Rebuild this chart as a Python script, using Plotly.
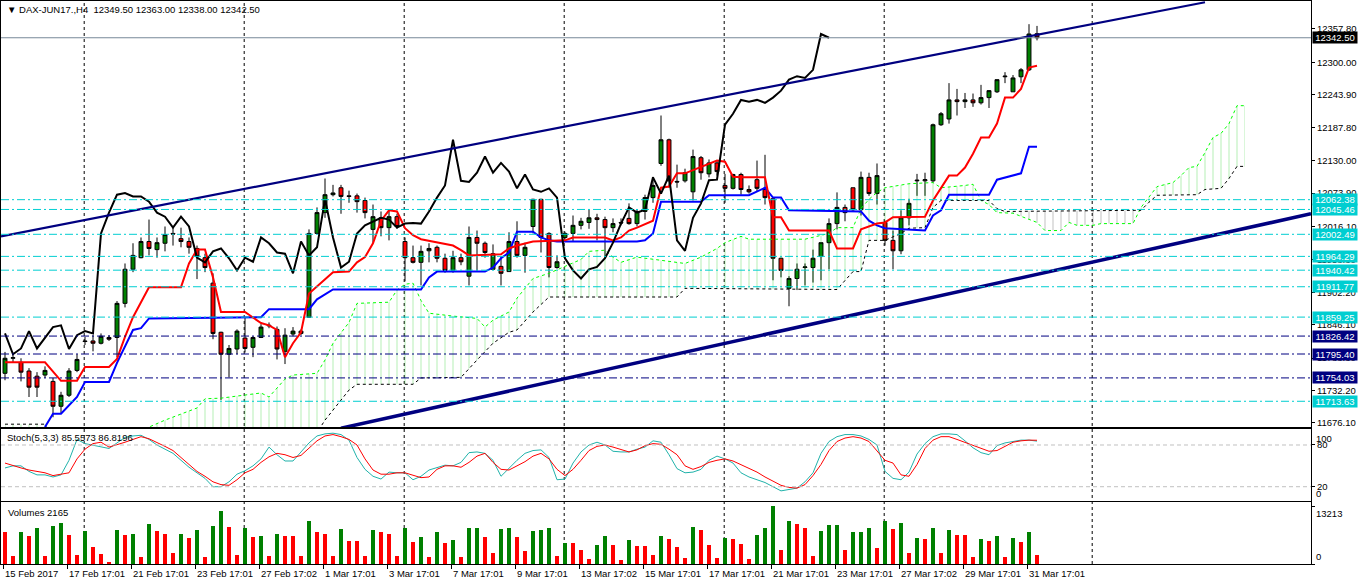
import plotly.graph_objects as go

# DAX-JUN17 H4, bars 0..129 (15 Feb 2017 .. 31 Mar 2017)
opens = [11762, 11788, 11781, 11766, 11757, 11759, 11748, 11705, 11724, 11767,
         11818, 11818, 11814, 11824, 11824, 11883, 11942, 11962, 11990, 11976,
         11987, 12004, 11995, 11990, 11978, 11962, 11918, 11833, 11795, 11804,
         11823, 11807, 11824, 11844, 11838, 11800, 11830, 11835, 11859, 12004,
         12040, 12071, 12083, 12069, 12069, 12061, 12011, 12031, 12014, 12033,
         11990, 11962, 11954, 11974, 11980, 11961, 11940, 11962, 11930, 11997,
         11987, 11942, 11947, 11938, 11990, 11966, 12016, 12063, 12004, 11945,
         11997, 12004, 12018, 12023, 12031, 12028, 12014, 12023, 12030, 12021,
         12042, 12066, 12125, 12166, 12094, 12095, 12076, 12135, 12107, 12126,
         12087, 12082, 12106, 12080, 12097, 12080, 12064, 11961, 11909, 11926,
         11945, 11945, 11964, 11988, 12021, 12049, 12083, 12045, 12101, 12073,
         12023, 11992, 11974, 12031, 12095, 12095, 12095, 12192, 12202, 12235,
         12232, 12235, 12230, 12239, 12249, 12275, 12249, 12275, 12287, 12349.5]
highs = [11799, 11797, 11788, 11771, 11764, 11774, 11754, 11730, 11771, 11795,
         11825, 11828, 11831, 11828, 11887, 11952, 11987, 11997, 12028, 11997,
         12016, 12014, 12014, 11997, 11983, 11969, 11935, 11834, 11811, 11838,
         11859, 11826, 11847, 11850, 11843, 11840, 11842, 11838, 12011, 12049,
         12099, 12088, 12088, 12078, 12073, 12066, 12054, 12042, 12045, 12038,
         11997, 11983, 11983, 11987, 11983, 11969, 11974, 11969, 12016, 12009,
         11990, 11985, 11964, 12006, 12025, 11988, 12064, 12064, 12006, 11966,
         12007, 12035, 12031, 12045, 12038, 12033, 12030, 12030, 12056, 12045,
         12071, 12102, 12208, 12168, 12123, 12116, 12149, 12138, 12132, 12130,
         12107, 12107, 12109, 12087, 12130, 12140, 12065, 11962, 11930, 11952,
         11952, 11976, 11988, 12030, 12075, 12054, 12083, 12111, 12109, 12125,
         12026, 12009, 12044, 12064, 12107, 12109, 12194, 12214, 12264, 12254,
         12247, 12246, 12261, 12252, 12270, 12283, 12278, 12290, 12366, 12363]
lows = [11750, 11780, 11748, 11721, 11721, 11754, 11686, 11693, 11721, 11764,
        11811, 11800, 11812, 11818, 11790, 11876, 11937, 11961, 11966, 11962,
        11973, 11983, 11980, 11969, 11925, 11937, 11821, 11716, 11755, 11795,
        11798, 11790, 11823, 11840, 11786, 11778, 11826, 11828, 11858, 12004,
        12031, 12068, 12038, 12057, 12040, 12030, 11988, 11999, 11992, 12012,
        11921, 11952, 11914, 11954, 11954, 11936, 11936, 11949, 11914, 11938,
        11962, 11942, 11914, 11938, 11962, 11936, 12004, 11971, 11928, 11943,
        11994, 11990, 12011, 12012, 11992, 11962, 12006, 12018, 12019, 12016,
        12028, 12057, 12121, 12083, 12083, 12092, 12061, 12097, 12101, 12104,
        12057, 12080, 12071, 12073, 12076, 12054, 11923, 11928, 11878, 11906,
        11914, 11919, 11923, 11942, 12011, 12025, 12042, 12035, 12069, 12054,
        11983, 11942, 11968, 12018, 12069, 12069, 12092, 12190, 12194, 12208,
        12221, 12223, 12227, 12221, 12247, 12264, 12249, 12264, 12285, 12338]
closes = [11788, 11789, 11764, 11738, 11738, 11767, 11705, 11724, 11766, 11786,
          11817, 11814, 11826, 11821, 11883, 11942, 11966, 11990, 11978, 11988,
          12002, 12003, 11990, 11980, 11964, 11945, 11831, 11795, 11805, 11835,
          11805, 11824, 11842, 11845, 11804, 11828, 11835, 11831, 12004, 12040,
          12071, 12074, 12068, 12068, 12059, 12040, 12033, 12014, 12033, 12016,
          11962, 11954, 11973, 11978, 11961, 11940, 11962, 11955, 11997, 11987,
          11971, 11969, 11935, 11990, 11966, 11980, 12063, 11997, 11945, 11955,
          12004, 12018, 12025, 12031, 12028, 12014, 12021, 12022, 12021, 12042,
          12066, 12087, 12166, 12095, 12093, 12109, 12137, 12109, 12126, 12111,
          12082, 12106, 12080, 12076, 12082, 12066, 11961, 11940, 11926, 11942,
          11946, 11961, 11988, 12021, 12049, 12040, 12045, 12101, 12073, 12104,
          11992, 11974, 12031, 12056, 12096, 12097, 12192, 12211, 12235, 12232,
          12235, 12230, 12239, 12251, 12270, 12276, 12273, 12287, 12349, 12342.5]
volumes = [7186, 1854, 7186, 6490, 8113, 1854, 8577, 9272, 6722, 2086,
           7418, 3941, 2318, 464, 7650, 6722, 6954, 1623, 9040, 7418,
           6954, 2550, 6954, 6027, 7650, 1623, 8577, 12054, 8345, 2086,
           8113, 6259, 6490, 1854, 6954, 6490, 6480, 1854, 9736, 7186,
           6954, 1854, 7881, 5331, 5300, 1854, 7650, 7186, 6954, 1854,
           8113, 5100, 6259, 1623, 7186, 4868, 5563, 1623, 8113, 8150,
           6259, 2550, 7881, 8113, 6259, 3013, 7418, 7650, 8113, 1854,
           4868, 4840, 3245, 1159, 4404, 6490, 4404, 927, 5563, 4172,
           4150, 2086, 6490, 5795, 3941, 1391, 8345, 7650, 4404, 1391,
           6027, 5795, 4636, 1159, 6722, 8113, 13213, 3245, 9736, 9040,
           8113, 1854, 7418, 8808, 8850, 3245, 7186, 7220, 8113, 3709,
           9736, 7881, 9272, 2550, 6027, 5795, 8113, 2550, 7650, 6722,
           6700, 1623, 5795, 5331, 6490, 1623, 6027, 5100, 7186, 2165]
stoch_k = [47, 50, 50, 42, 37, 37, 34, 37, 58, 88,
           82, 80, 78, 75, 83, 91, 93, 94, 88, 80,
           74, 68, 58, 48, 40, 32, 20, 20, 27, 38,
           43, 50, 60, 77, 66, 57, 57, 70, 83, 93,
           96, 97, 95, 87, 62, 45, 35, 31, 41, 40,
           40, 30, 35, 44, 48, 51, 50, 55, 69, 70,
           68, 58, 35, 47, 58, 68, 72, 73, 62, 30,
           31, 54, 70, 80, 84, 80, 71, 70, 70, 74,
           77, 86, 84, 66, 46, 40, 41, 45, 58, 64,
           60, 54, 40, 34, 30, 26, 20, 14, 16, 18,
           27, 40, 68, 85, 92, 95, 95, 93, 88, 80,
           42, 32, 30, 41, 67, 82, 92, 96, 96, 95,
           86, 76, 69, 66, 79, 83, 85, 87, 87, 85.5573]
stoch_d = [54, 50, 47, 44, 42, 40, 36, 38, 40, 60,
           74, 82, 84, 77, 80, 84, 88, 92, 89, 84,
           78, 72, 62, 52, 42, 35, 27, 23, 22, 30,
           40, 45, 55, 63, 68, 66, 62, 65, 76, 86,
           93, 95, 92, 88, 80, 60, 44, 38, 38, 40,
           40, 36, 33, 34, 45, 50, 50, 48, 55, 64,
           68, 55, 45, 44, 50, 56, 64, 68, 60, 45,
           36, 45, 58, 72, 78, 80, 77, 73, 70, 73,
           79, 82, 81, 74, 66, 50, 45, 49, 55, 58,
           60, 57, 52, 46, 41, 34, 28, 22, 19, 18,
           23, 36, 52, 72, 85, 90, 92, 90, 85, 72,
           58, 54, 37, 35, 52, 75, 87, 92, 92, 88,
           84, 80, 76, 71, 72, 78, 84, 86, 87, 86.8196]

# Ichimoku lines, read at their corners (bar, price)
tenkan_x = [0, 5, 7, 9, 10, 13, 14, 15, 16, 18, 22, 23, 24, 25, 26, 27, 30, 31, 32, 33,
            34, 35, 36, 37, 38, 41, 43, 44, 45, 46, 47, 48, 49, 50, 51, 52, 56, 57, 58, 62,
            63, 64, 65, 66, 70, 71, 75, 76, 77, 78, 79, 81, 82, 83, 84, 85, 89, 90, 91, 92,
            95, 96, 97, 98, 103, 104, 106, 107, 109, 110, 111, 115, 116, 117, 118, 119, 120, 121, 122, 123,
            124, 125, 126, 127, 128, 129]
tenkan_y = [11781, 11781, 11749, 11749, 11773, 11773, 11787, 11825, 11859, 11911,
            11911, 11952, 11976, 11976, 11928, 11868, 11868, 11859, 11849, 11845,
            11837, 11790, 11814, 11833, 11900, 11937, 11938, 11954, 11963, 11987,
            12026, 12044, 12042, 12013, 12001, 11994, 11983, 11975, 11966, 11968,
            11978, 11983, 11987, 11990, 11992, 11997, 11997, 11992, 11997, 12009,
            12014, 12026, 12083, 12085, 12108, 12108, 12130, 12128, 12102, 12101,
            12101, 12032, 12032, 12009, 12009, 11978, 11978, 12011, 12021, 12023,
            12032, 12033, 12061, 12083, 12104, 12104, 12118, 12142, 12170, 12170,
            12194, 12239, 12239, 12254, 12291, 12294]
kijun_x = [5, 6, 7, 9, 10, 13, 14, 16, 17, 18, 32, 33, 38, 39, 41, 52, 53, 54, 60, 61,
           62, 63, 64, 66, 67, 68, 69, 79, 80, 81, 82, 87, 88, 93, 95, 96, 97, 98, 107, 108,
           109, 110, 115, 116, 117, 118, 123, 124, 127, 128, 129]
kijun_y = [11669, 11692, 11692, 11721, 11747, 11747, 11780, 11837, 11840, 11857,
           11859, 11873, 11873, 11890, 11907, 11907, 11928, 11938, 11938, 11945,
           11961, 11971, 12007, 12007, 11997, 11992, 11990, 11990, 11992, 12004,
           12059, 12059, 12070, 12070, 12083, 12066, 12066, 12044, 12042, 12026,
           12018, 12013, 12009, 12035, 12044, 12071, 12071, 12097, 12108, 12154,
           12154]
senkou_a_x = [0, 14, 18, 20, 24, 25, 27, 31, 32, 33, 35, 36, 39, 40, 41, 43, 44, 48, 49, 50,
              51, 52, 53, 56, 59, 60, 61, 63, 64, 66, 68, 70, 72, 73, 75, 76, 77, 79, 84, 85,
              87, 89, 90, 91, 92, 93, 96, 100, 103, 104, 106, 107, 108, 109, 110, 113, 116, 117, 120, 121,
              122, 123, 124, 126, 129, 130, 132, 133, 134, 136, 137, 141, 142, 143, 144, 146, 147, 148, 149, 150,
              151, 152, 153, 154, 155]
senkou_a_y = [11638, 11638, 11669, 11681, 11702, 11718, 11719, 11726, 11728, 11721,
              11752, 11759, 11762, 11785, 11814, 11850, 11883, 11885, 11906, 11916,
              11918, 11888, 11866, 11861, 11857, 11842, 11854, 11868, 11892, 11926,
              11935, 11947, 11959, 11973, 11975, 11963, 11954, 11963, 11954, 11952,
              11963, 11978, 11988, 11994, 11999, 11994, 11994, 11994, 12004, 12014,
              12014, 12047, 12063, 12075, 12083, 12090, 12092, 12083, 12087, 12089,
              12061, 12054, 12040, 12039, 12023, 12009, 12009, 12023, 12018, 12018,
              12021, 12021, 12049, 12066, 12085, 12092, 12104, 12118, 12120, 12144,
              12170, 12177, 12194, 12225, 12225]
senkou_b_x = [0, 5, 6, 38, 40, 43, 44, 51, 52, 57, 59, 61, 63, 64, 66, 68, 84, 85, 104, 105,
              106, 107, 108, 110, 112, 113, 115, 116, 117, 123, 124, 125, 142, 143, 144, 149, 150, 152, 153, 154,
              155]
senkou_b_y = [11674, 11674, 11638, 11638, 11681, 11733, 11743, 11743, 11754, 11755,
              11785, 11814, 11833, 11837, 11868, 11894, 11894, 11909, 11907, 11923,
              11938, 11938, 11992, 11992, 12004, 12013, 12014, 12049, 12061, 12061,
              12047, 12042, 12044, 12058, 12070, 12071, 12080, 12082, 12099, 12120,
              12120]

# drawn objects
cyan_levels = [12062.38, 12045.46, 12002.49, 11964.29, 11940.42, 11911.77, 11859.25, 11713.63]
navy_levels = [11826.42, 11795.40, 11754.03]
last_price = 12342.50
upper_trend_x = [-0.5, 150]
upper_trend_y = [11999, 12404]
lower_trend_x = [42, 163.25]
lower_trend_y = [11667, 12038]

price_ticks = [12357.80, 12300.00, 12243.90, 12187.80, 12130.00, 12073.90, 12016.10,
               11958.30, 11902.20, 11846.10, 11788.30, 11732.20, 11676.10]
date_labels = ['15 Feb 2017', '17 Feb 17:01', '21 Feb 17:01', '23 Feb 17:01', '27 Feb 17:02',
               '1 Mar 17:01', '3 Mar 17:01', '7 Mar 17:01', '9 Mar 17:01', '13 Mar 17:02',
               '15 Mar 17:01', '17 Mar 17:01', '21 Mar 17:01', '23 Mar 17:01', '27 Mar 17:02',
               '29 Mar 17:01', '31 Mar 17:01']

FONT = 'Liberation Sans'
FS = 9.5
CYAN = '#00ced1'
NAVY = '#000080'
n = len(closes)
bars = list(range(n))
vol_colors = ['#ff0000'] + ['#008000' if volumes[i] > volumes[i - 1] else '#ff0000' for i in range(1, n)]


def pick(xs, ys, lo, hi):
    pts = [(x, y) for x, y in zip(xs, ys) if lo <= x <= hi]
    return [p[0] for p in pts], [p[1] for p in pts]


fig = go.Figure()

# kumo hatching (green where span A on top, black where span B on top)
for lo, hi, col in [(0, 124, 'rgba(0,200,0,0.65)'), (124, 142, 'rgba(0,0,0,0.55)'),
                    (142, 155, 'rgba(0,200,0,0.65)')]:
    bx, by = pick(senkou_b_x, senkou_b_y, lo, hi)
    ax, ay = pick(senkou_a_x, senkou_a_y, lo, hi)
    fig.add_trace(go.Scatter(x=bx, y=by, mode='lines', line=dict(width=0), hoverinfo='skip'))
    fig.add_trace(go.Scatter(x=ax, y=ay, mode='lines', line=dict(width=0), fill='tonexty',
                             fillcolor='rgba(0,0,0,0)',
                             fillpattern=dict(shape='|', size=8, solidity=0.11, fgcolor=col),
                             hoverinfo='skip'))

fig.add_trace(go.Scatter(x=senkou_a_x, y=senkou_a_y, mode='lines',
                         line=dict(color='#00ff00', width=1, dash='dot')))
fig.add_trace(go.Scatter(x=senkou_b_x, y=senkou_b_y, mode='lines',
                         line=dict(color='black', width=1, dash='dot')))
fig.add_trace(go.Scatter(x=kijun_x, y=kijun_y, mode='lines', line=dict(color='#0000ff', width=2)))
fig.add_trace(go.Scatter(x=tenkan_x, y=tenkan_y, mode='lines', line=dict(color='#ff0000', width=2)))
# chikou span = close shifted 26 bars back
fig.add_trace(go.Scatter(x=[i - 26 for i in bars[26:]], y=closes[26:], mode='lines',
                         line=dict(color='black', width=2)))

fig.add_trace(go.Candlestick(x=bars, open=opens, high=highs, low=lows, close=closes,
                             increasing=dict(line=dict(color='black', width=1), fillcolor='#008000'),
                             decreasing=dict(line=dict(color='black', width=1), fillcolor='#ff0000'),
                             whiskerwidth=0))

fig.add_trace(go.Scatter(x=upper_trend_x, y=upper_trend_y, mode='lines', line=dict(color=NAVY, width=2.2)))
fig.add_trace(go.Scatter(x=lower_trend_x, y=lower_trend_y, mode='lines', line=dict(color=NAVY, width=3.5)))

# stochastic
fig.add_trace(go.Scatter(x=bars, y=stoch_k, mode='lines', line=dict(color='#20b2aa', width=1),
                         xaxis='x2', yaxis='y2'))
fig.add_trace(go.Scatter(x=bars, y=stoch_d, mode='lines', line=dict(color='#ff0000', width=1),
                         xaxis='x2', yaxis='y2'))

# volumes
fig.add_trace(go.Bar(x=bars, y=volumes, marker_color=vol_colors, marker_line_width=0, width=0.5,
                     xaxis='x3', yaxis='y3'))

shapes = []
for g in [9.9, 29.9, 49.9, 69.9, 89.9, 109.9, 135.9]:
    shapes.append(dict(type='line', xref='x', yref='paper', x0=g, x1=g, y0=0, y1=1,
                       line=dict(color='black', width=1, dash='3px,3px'), layer='below'))
for lv in [20, 80]:
    shapes.append(dict(type='line', xref='paper', yref='y2', x0=0, x1=1, y0=lv, y1=lv,
                       line=dict(color='#c0c0c0', width=1, dash='4px,3px')))
for lv in cyan_levels:
    shapes.append(dict(type='line', xref='paper', yref='y', x0=0, x1=1, y0=lv, y1=lv,
                       line=dict(color=CYAN, width=1, dash='8px,3px,2px,3px')))
for lv in navy_levels:
    shapes.append(dict(type='line', xref='paper', yref='y', x0=0, x1=1, y0=lv, y1=lv,
                       line=dict(color=NAVY, width=1, dash='8px,3px,2px,3px')))
shapes.append(dict(type='line', xref='paper', yref='y', x0=0, x1=1, y0=last_price, y1=last_price,
                   line=dict(color='#778899', width=1)))

annotations = []
for lv, col in [(v, CYAN) for v in cyan_levels] + [(v, NAVY) for v in navy_levels] + [(last_price, 'black')]:
    annotations.append(dict(xref='paper', yref='y', x=1, y=lv, xanchor='left', yanchor='middle',
                            text='%.2f' % lv, showarrow=False, bgcolor=col, width=44, height=11,
                            borderpad=0, xshift=1, font=dict(color='white', size=FS, family=FONT)))
annotations.append(dict(xref='paper', yref='paper', x=0, y=1, xanchor='left', yanchor='top',
                        xshift=4, yshift=-1, showarrow=False,
                        text='▼ DAX-JUN17.,H4\u00a0\u00a012349.50 12363.00 12338.00 12342.50',
                        font=dict(size=FS, family=FONT, color='black')))
annotations.append(dict(xref='paper', yref='y2 domain', x=0, y=1, xanchor='left', yanchor='top',
                        xshift=4, yshift=-1, showarrow=False, text='Stoch(5,3,3) 85.5573 86.8196',
                        font=dict(size=FS, family=FONT, color='black')))
annotations.append(dict(xref='paper', yref='y3 domain', x=0, y=1, xanchor='left', yanchor='top',
                        xshift=5, yshift=-3, showarrow=False, text='Volumes 2165',
                        font=dict(size=FS, family=FONT, color='black')))
for txt, yref, yv, anchor in [('100', 'y2', 100, 'top'), ('0', 'y2', 0, 'bottom'),
                              ('13213', 'y3', 13213, 'top'), ('0', 'y3', 0, 'bottom')]:
    annotations.append(dict(xref='paper', yref=yref, x=1, y=yv, xanchor='left', yanchor=anchor,
                            xshift=3, showarrow=False, text=txt,
                            font=dict(size=FS, family=FONT, color='black')))
for k, lab in enumerate(date_labels):
    annotations.append(dict(xref='x3', yref='paper', x=8 * k - 0.2, y=0, xanchor='left', yanchor='top',
                            yshift=-2, showarrow=False, text=lab,
                            font=dict(size=FS, family=FONT, color='black')))

X_RANGE = [-0.5, 163.25]
xcommon = dict(range=X_RANGE, showgrid=False, zeroline=False, showline=True, mirror=True,
               linecolor='black', linewidth=1, showticklabels=False, fixedrange=True)
ycommon = dict(side='right', showgrid=False, zeroline=False, showline=True, mirror=True,
               linecolor='black', linewidth=1, ticks='outside', ticklen=3, tickcolor='black',
               tickfont=dict(size=FS, family=FONT, color='black'), automargin=False, fixedrange=True)

fig.update_layout(
    width=1358, height=584,
    margin=dict(l=1, r=47, t=1, b=20),
    paper_bgcolor='white', plot_bgcolor='white',
    showlegend=False, hovermode=False, bargap=0,
    font=dict(family=FONT, size=FS, color='black'),
    xaxis=dict(xcommon, anchor='y', rangeslider=dict(visible=False)),
    xaxis2=dict(xcommon, anchor='y2', matches='x'),
    xaxis3=dict(xcommon, anchor='y3', matches='x', ticks='outside', ticklen=4, tickcolor='black',
                tickvals=[8 * k - 0.2 for k in range(len(date_labels))]),
    yaxis=dict(ycommon, domain=[0.2425, 1], range=[11668.3, 12406.1],
               tickvals=price_ticks, ticktext=['%.2f' % v for v in price_ticks]),
    yaxis2=dict(ycommon, domain=[0.1126, 0.2389], range=[0, 102.3],
                tickvals=[20, 80], ticktext=['20', '80']),
    yaxis3=dict(ycommon, domain=[0, 0.1101], range=[0, 14140], tickvals=[0, 13213],
                showticklabels=False),
    shapes=shapes,
    annotations=annotations,
)

# page body margin would push the 1358x584 figure off the window
fig.write_html("out.html", config={'displayModeBar': False},
               post_script="document.body.style.margin='0';")
